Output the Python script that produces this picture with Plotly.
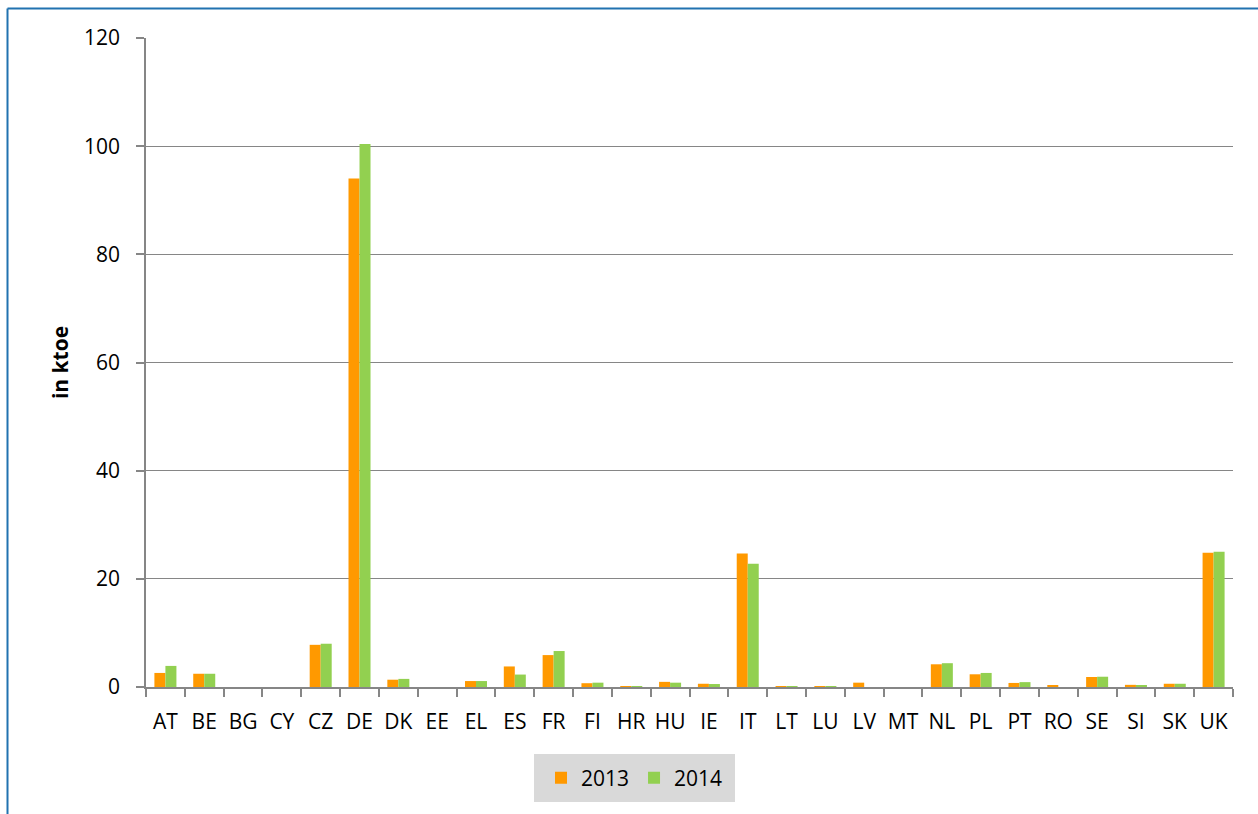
import plotly.graph_objects as go

# Countries (EU member state codes) and values in ktoe
countries = ["AT", "BE", "BG", "CY", "CZ", "DE", "DK", "EE", "EL", "ES", "FR", "FI", "HR", "HU",
             "IE", "IT", "LT", "LU", "LV", "MT", "NL", "PL", "PT", "RO", "SE", "SI", "SK", "UK"]
values_2013 = [2.6, 2.45, 0, 0, 7.8, 94.0, 1.35, 0, 1.1, 3.8, 5.9, 0.7, 0.1, 0.95,
               0.6, 24.7, 0.1, 0.1, 0.8, 0, 4.2, 2.35, 0.75, 0.2, 1.85, 0.4, 0.6, 24.8]
values_2014 = [3.9, 2.45, 0, 0, 8.0, 100.4, 1.5, 0, 1.1, 2.3, 6.65, 0.8, 0.05, 0.8,
               0.55, 22.8, 0.05, 0.1, 0, 0, 4.4, 2.6, 0.9, 0, 1.9, 0.3, 0.6, 25.0]
y_ticks = [0, 20, 40, 60, 80, 100, 120]

ORANGE = "#FF9900"
GREEN = "#92D050"
GRID = "#868686"
FONT = "Open Sans"
FS = 21

fig = go.Figure()
fig.add_trace(go.Bar(x=countries, y=values_2013, name="2013", marker_color=ORANGE,
                     marker_line_width=0))
fig.add_trace(go.Bar(x=countries, y=values_2014, name="2014", marker_color=GREEN,
                     marker_line_width=0))

W, H = 1258, 814
L, R, T, B = 146, 25, 38, 127
pw, ph = W - L - R, H - T - B


def px_x(px):
    return (px - L) / pw


def px_y(py):
    return (H - B - py) / ph


shapes = [
    # grey legend panel
    dict(type="rect", xref="paper", yref="paper",
         x0=px_x(534), x1=px_x(735), y0=px_y(802), y1=px_y(754),
         fillcolor="#D9D9D9", line_width=0, layer="below"),
    # blue frame (left and top edges)
    dict(type="line", xref="paper", yref="paper",
         x0=px_x(7.5), x1=px_x(7.5), y0=px_y(H + 2), y1=px_y(8.5),
         line=dict(color="#2172B0", width=2)),
    dict(type="line", xref="paper", yref="paper",
         x0=px_x(7.5), x1=px_x(W + 2), y0=px_y(8.5), y1=px_y(8.5),
         line=dict(color="#2172B0", width=2)),
]

fig.update_layout(
    width=W, height=H,
    margin=dict(l=L, r=R, t=T, b=B, pad=0),
    paper_bgcolor="white", plot_bgcolor="white",
    barmode="group", bargap=0.433, bargroupgap=0,
    font=dict(family=FONT, size=FS, color="#000000"),
    showlegend=True,
    legend=dict(orientation="h", x=px_x(634.5), xanchor="center",
                y=px_y(778), yanchor="middle", bgcolor="rgba(0,0,0,0)",
                font=dict(family=FONT, size=FS), itemwidth=30,
                traceorder="normal"),
    shapes=shapes,
    xaxis=dict(
        type="category", showgrid=False, showline=True, linecolor=GRID, linewidth=1.5,
        ticks="outside", tickson="boundaries", ticklen=8, tickcolor=GRID, tickwidth=1.5,
        tickfont=dict(family=FONT, size=FS), ticklabelstandoff=15, tickangle=0,
    ),
    yaxis=dict(
        range=[0, 120], tickvals=y_ticks, showgrid=True, gridcolor=GRID, gridwidth=1,
        showline=True, linecolor=GRID, linewidth=1.5, zeroline=False,
        ticks="outside", ticklen=8, tickcolor=GRID, tickwidth=1.5,
        tickfont=dict(family=FONT, size=FS), ticklabelstandoff=12,
        title=dict(text="<b>in ktoe</b>", font=dict(family=FONT, size=FS), standoff=10),
    ),
)

fig.write_html("out.html")
